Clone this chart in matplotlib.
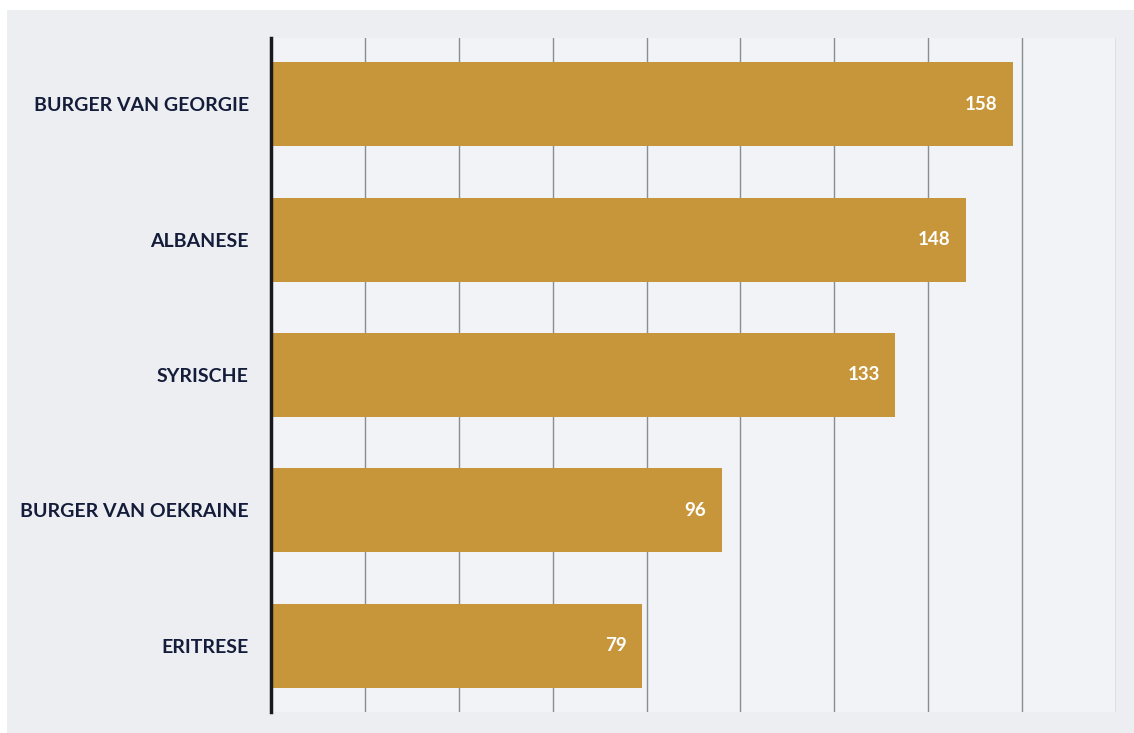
import matplotlib
matplotlib.use("Agg")
import matplotlib.pyplot as plt
from matplotlib.patches import Rectangle

categories = ["BURGER VAN GEORGIE", "ALBANESE", "SYRISCHE", "BURGER VAN OEKRAINE", "ERITRESE"]
values = [158, 148, 133, 96, 79]
xticks = [0, 20, 40, 60, 80, 100, 120, 140, 160, 180]

W, H = 1134, 733
fig = plt.figure(figsize=(W / 100, H / 100), dpi=100, facecolor="white")
fig.patches.append(Rectangle((7 / W, 0), 1 - 7 / W, 1 - 10 / H, transform=fig.transFigure,
                             facecolor="#eceef2", edgecolor="none", zorder=-5))

ax = fig.add_axes([271 / W, 1 - 712 / H, (1116 - 271) / W, (712 - 38) / H])
ax.set_facecolor("#f6f7f9")
ax.patch.set_alpha(0.6)

ypos = list(range(len(categories)))
bars = ax.barh(ypos, values, height=0.62, color="#c8963a", zorder=3)
ax.set_xlim(0, 180)
ax.set_ylim(len(categories) - 0.51, -0.49)
ax.set_xticks(xticks)
ax.set_xticklabels([])
ax.tick_params(axis="x", length=0)
ax.grid(axis="x", color="#8a8d92", linewidth=1.0, zorder=1)
ax.set_yticks(ypos)
ax.set_yticklabels(categories, fontfamily="Lato", fontweight="bold", fontsize=14, color="#141c3a")
ax.tick_params(axis="y", length=0, pad=16)
for s in ["top", "right", "bottom"]:
    ax.spines[s].set_visible(False)
ax.spines["left"].set_color("#1a1a1a")
ax.spines["left"].set_linewidth(2.5)
ax.spines["left"].set_zorder(4)

for y, v in zip(ypos, values):
    ax.annotate(str(v), xy=(v, y), xytext=(-11, 0), textcoords="offset points",
                ha="right", va="center", color="white", fontfamily="Lato",
                fontweight="bold", fontsize=13.5, zorder=5)

fig.savefig("out.png", dpi=100, facecolor=fig.get_facecolor())
